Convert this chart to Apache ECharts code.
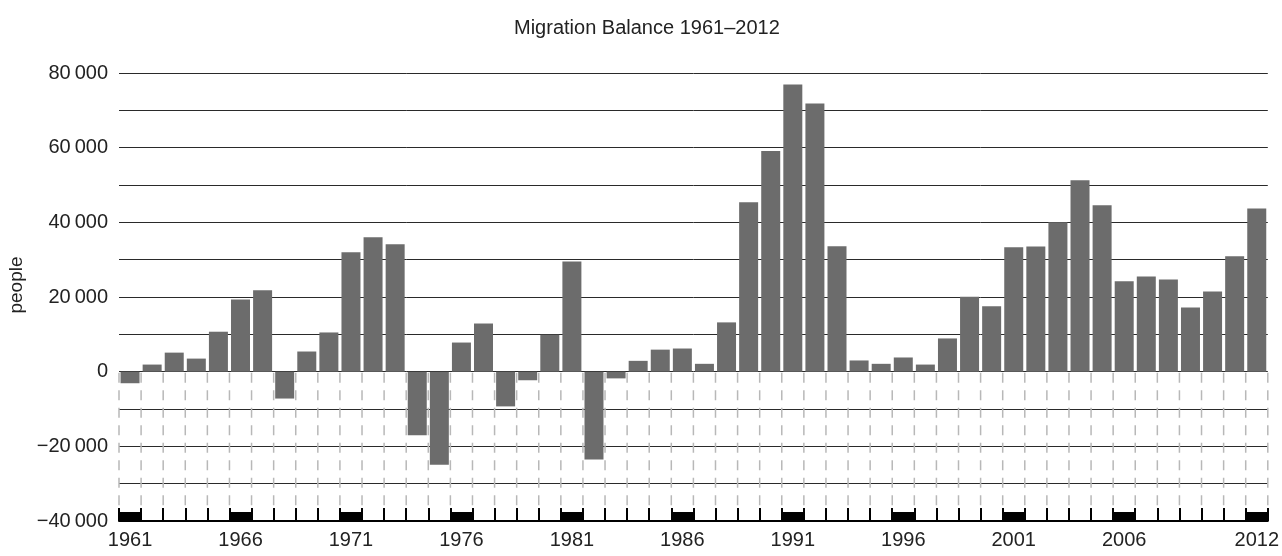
<!DOCTYPE html>
<html>
<head>
<meta charset="utf-8">
<script src="https://cdn.jsdelivr.net/npm/echarts@6/dist/echarts.min.js"></script>
<style>
  html, body { margin: 0; padding: 0; background: #fff; }
  #chart { width: 1282px; height: 556px; }
</style>
</head>
<body>
<div id="chart"></div>
<script>
// Net migration per year, 1961–2012 (people)
const firstYear = 1961;
const lastYear = 2012;
const years = [];
for (let y = firstYear; y <= lastYear; y++) years.push(String(y));

const migration = [
  -3100, 1900, 5100, 3500, 10700, 19300, 21800, -7200, 5400, 10500,
  32000, 36000, 34100, -17000, -24900, 7800, 12900, -9300, -2300, 9900,
  29500, -23500, -1800, 2900, 5900, 6200, 2100, 13200, 45400, 59100,
  76900, 71800, 33600, 3000, 2100, 3800, 1900, 8900, 20100, 17500,
  33300, 33500, 40000, 51300, 44600, 24200, 25500, 24700, 17200, 21500,
  30900, 43700
];

// Years that get a label and a black marker on the axis
const labeledYears = ['1961', '1966', '1971', '1976', '1981', '1986', '1991', '1996', '2001', '2006', '2012'];

// Value axis range and labelled steps
const yMin = -40000;
const yMax = 80000;
const yGridStep = 10000;
const yLabelStep = 20000;

const FONT = '"Liberation Sans", Arial, Helvetica, sans-serif';
const TEXT = '#222222';

function groupThousands(n) {
  return String(n).replace(/\B(?=(\d{3})+(?!\d))/g, '\u2009');
}
function formatValue(v) {
  if (v % yLabelStep !== 0) return '';
  return v < 0 ? '\u2212' + groupThousands(-v) : groupThousands(v);
}

const chart = echarts.init(document.getElementById('chart'), null, { renderer: 'canvas' });

const option = {
  animation: false,
  backgroundColor: '#ffffff',
  title: {
    text: 'Migration Balance 1961\u20132012',
    left: 509,
    top: 13,
    textStyle: { fontFamily: FONT, fontSize: 20, fontWeight: 'normal', color: TEXT }
  },
  graphic: [{
    type: 'text',
    x: 17,
    y: 285,
    rotation: Math.PI / 2,
    style: {
      text: 'people',
      font: '19px ' + FONT,
      fill: TEXT,
      textAlign: 'center',
      textVerticalAlign: 'middle'
    }
  }],
  grid: { left: 119, right: 14, top: 73, bottom: 35 },
  xAxis: {
    type: 'category',
    data: years,
    boundaryGap: true,
    axisLine: { show: true, onZero: false, lineStyle: { color: '#000', width: 2 } },
    axisTick: {
      show: true,
      interval: 0,
      inside: true,
      length: 13,
      lineStyle: { color: '#000', width: 2 }
    },
    axisLabel: {
      interval: function (index, value) { return labeledYears.indexOf(value) !== -1; },
      margin: 9,
      fontFamily: FONT,
      fontSize: 20,
      color: TEXT
    },
    splitLine: { show: false }
  },
  yAxis: {
    type: 'value',
    min: yMin,
    max: yMax,
    interval: yGridStep,
    axisLine: { show: false },
    axisTick: { show: false },
    axisLabel: {
      formatter: formatValue,
      margin: 11,
      fontFamily: FONT,
      fontSize: 20,
      color: TEXT
    },
    splitLine: { show: true, lineStyle: { color: '#2a2a2a', width: 1 } }
  },
  series: [
    {
      // dashed category separators below the zero line
      type: 'custom',
      coordinateSystem: 'cartesian2d',
      silent: true,
      z: 1,
      data: years.map(function (y, i) { return [i, 0]; }),
      encode: { x: 0, y: 1 },
      renderItem: function (params, api) {
        const idx = api.value(0);
        const bw = api.size([1, 0])[0];
        const zero = api.coord([idx, 0]);
        const bottom = api.coord([idx, yMin]);
        const xs = [zero[0] - bw / 2];
        if (idx === years.length - 1) xs.push(zero[0] + bw / 2);
        return {
          type: 'group',
          children: xs.map(function (x) {
            return {
              type: 'line',
              shape: { x1: x, y1: zero[1] + 1, x2: x, y2: bottom[1] - 13 },
              style: { stroke: '#b8b8b8', lineWidth: 1.5, lineDash: [10, 7.5] }
            };
          })
        };
      }
    },
    {
      name: 'Migration balance',
      type: 'bar',
      data: migration,
      barCategoryGap: '14%',
      itemStyle: { color: '#6c6c6c' },
      z: 3
    },
    {
      // black markers on the axis under the labelled years
      type: 'custom',
      coordinateSystem: 'cartesian2d',
      silent: true,
      z: 4,
      data: labeledYears.map(function (y) { return [years.indexOf(y), yMin]; }),
      encode: { x: 0, y: 1 },
      renderItem: function (params, api) {
        const idx = api.value(0);
        const bw = api.size([1, 0])[0];
        const p = api.coord([idx, yMin]);
        return {
          type: 'rect',
          shape: { x: p[0] - bw / 2, y: p[1] - 9, width: bw, height: 9 },
          style: { fill: '#000' }
        };
      }
    }
  ]
};

chart.setOption(option);
</script>
</body>
</html>
